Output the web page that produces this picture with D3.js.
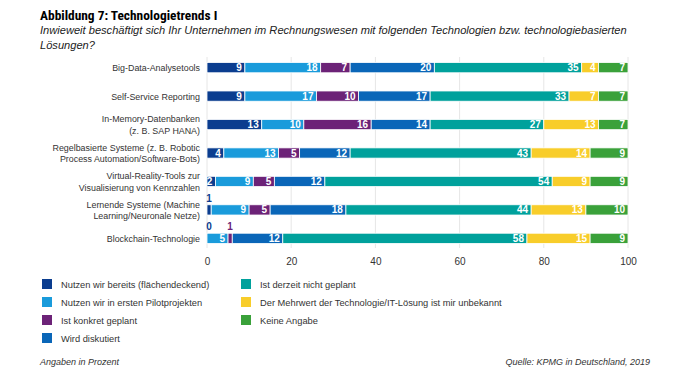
<!DOCTYPE html>
<html><head><meta charset="utf-8">
<script src="https://cdn.jsdelivr.net/npm/d3@7"></script>
<style>body{margin:0;background:#fff}svg{display:block;font-family:"Liberation Sans",Arial,sans-serif}</style>
</head><body><svg id="c" width="690" height="380"></svg>
<script>
const categories = [
  ["Big-Data-Analysetools"],
  ["Self-Service Reporting"],
  ["In-Memory-Datenbanken","(z. B. SAP HANA)"],
  ["Regelbasierte Systeme (z. B. Robotic","Process Automation/Software-Bots)"],
  ["Virtual-Reality-Tools zur","Visualisierung von Kennzahlen"],
  ["Lernende Systeme (Machine","Learning/Neuronale Netze)"],
  ["Blockchain-Technologie"]
];
const seriesNames = ["Nutzen wir bereits (flächendeckend)","Nutzen wir in ersten Pilotprojekten","Ist konkret geplant","Wird diskutiert","Ist derzeit nicht geplant","Der Mehrwert der Technologie/IT-Lösung ist mir unbekannt","Keine Angabe"];
const colors = ["#0B3D8F","#1A9BDB","#6C2277","#0A66B8","#00A19C","#F8CD2A","#3AA13A"];
const bereits   = [9,9,13,4,2,1,0];
const pilot     = [18,17,10,13,9,9,5];
const geplant   = [7,10,16,5,5,5,1];
const diskutiert= [20,17,14,12,12,18,12];
const nicht     = [35,33,27,43,54,44,58];
const unbekannt = [4,7,13,14,9,13,15];
const keine     = [7,7,7,9,9,10,9];
const ticks = [0,20,40,60,80,100];

const series = [bereits,pilot,geplant,diskutiert,nicht,unbekannt,keine];
const svg = d3.select("#c");
const x = d3.scaleLinear().domain([0,100]).range([207,628]);
const y = d3.scaleBand().domain(d3.range(categories.length)).range([54,252]).paddingInner(0.64).paddingOuter(0.3);

// title
svg.append("text").attr("x",40).attr("y",20).attr("font-size",13.4).attr("font-weight","bold").attr("fill","#000")
  .attr("font-family","'Liberation Sans Narrow','Roboto Condensed',Arial,sans-serif").text("Abbildung 7: Technologietrends I");
svg.append("text").attr("x",40).attr("y",34).attr("font-size",11.1).attr("font-style","italic").attr("fill","#222").text("Inwieweit beschäftigt sich Ihr Unternehmen im Rechnungswesen mit folgenden Technologien bzw. technologiebasierten");
svg.append("text").attr("x",40).attr("y",49).attr("font-size",11.1).attr("font-style","italic").attr("fill","#222").text("Lösungen?");

// grid
svg.append("g").selectAll("line").data(ticks).join("line")
  .attr("x1",d=>x(d)).attr("x2",d=>x(d)).attr("y1",57).attr("y2",248)
  .attr("stroke","#e6e6e6").attr("stroke-width",1);
const ax = svg.append("g").attr("transform","translate(0,252)").call(d3.axisBottom(x).tickValues(ticks).tickSize(0).tickPadding(6));
ax.select(".domain").remove();
ax.selectAll("text").attr("font-size",10).attr("fill","#333").attr("font-family","Liberation Sans, Arial, sans-serif");

// category labels
categories.forEach((c,i)=>{
  const cy = y(i)+y.bandwidth()/2;
  const t = svg.append("text").attr("x",200).attr("text-anchor","end").attr("font-size",8.9).attr("fill","#333");
  const n = c.length;
  c.forEach((line,j)=>{
    t.append("tspan").attr("x",200).attr("y",cy + 3.5 + (j-(n-1)/2)*11.5).text(line);
  });
});

// bars
const stackData = categories.map((c,i)=>{ const o={}; series.forEach((s,k)=>o[k]=s[i]); return o; });
const stack = d3.stack().keys(d3.range(series.length))(stackData);
stack.forEach((layer,k)=>{
  const g = svg.append("g");
  layer.forEach((d,i)=>{
    const w = x(d[1])-x(d[0]);
    const yy = y(i), h = y.bandwidth();
    if (w>0) g.append("rect").attr("x",x(d[0])).attr("y",yy).attr("width",w).attr("height",h)
      .attr("fill",colors[k]).attr("stroke","#fff").attr("stroke-width",0.8);
    const v = series[k][i];
    if (v>=2) {
      g.append("text").attr("x",x(d[1])-3).attr("y",yy+h/2+3.6).attr("text-anchor","end")
        .attr("font-size",10).attr("font-weight","bold").attr("fill","#fff").text(v);
    } else {
      g.append("text").attr("x",(x(d[0])+x(d[1]))/2 + (v===0?2:0)).attr("y",yy-3).attr("text-anchor","middle")
        .attr("font-size",10).attr("font-weight","bold").attr("fill",colors[k]).text(v);
    }
  });
});

// legend
seriesNames.forEach((n,k)=>{
  const col = k<4?0:1, row = k<4?k:k-4;
  const lx = col===0?42:241, ly = 279+row*18;
  svg.append("rect").attr("x",lx).attr("y",ly).attr("width",10).attr("height",10).attr("fill",colors[k]);
  svg.append("text").attr("x",lx+19).attr("y",ly+8.5).attr("font-size",9.3).attr("fill","#333").text(n);
});

// footer
svg.append("text").attr("x",40).attr("y",365).attr("font-size",9).attr("font-style","italic").attr("fill","#333").text("Angaben in Prozent");
svg.append("text").attr("x",650).attr("y",365).attr("text-anchor","end").attr("font-size",9).attr("font-style","italic").attr("fill","#333").text("Quelle: KPMG in Deutschland, 2019");
</script></body></html>
